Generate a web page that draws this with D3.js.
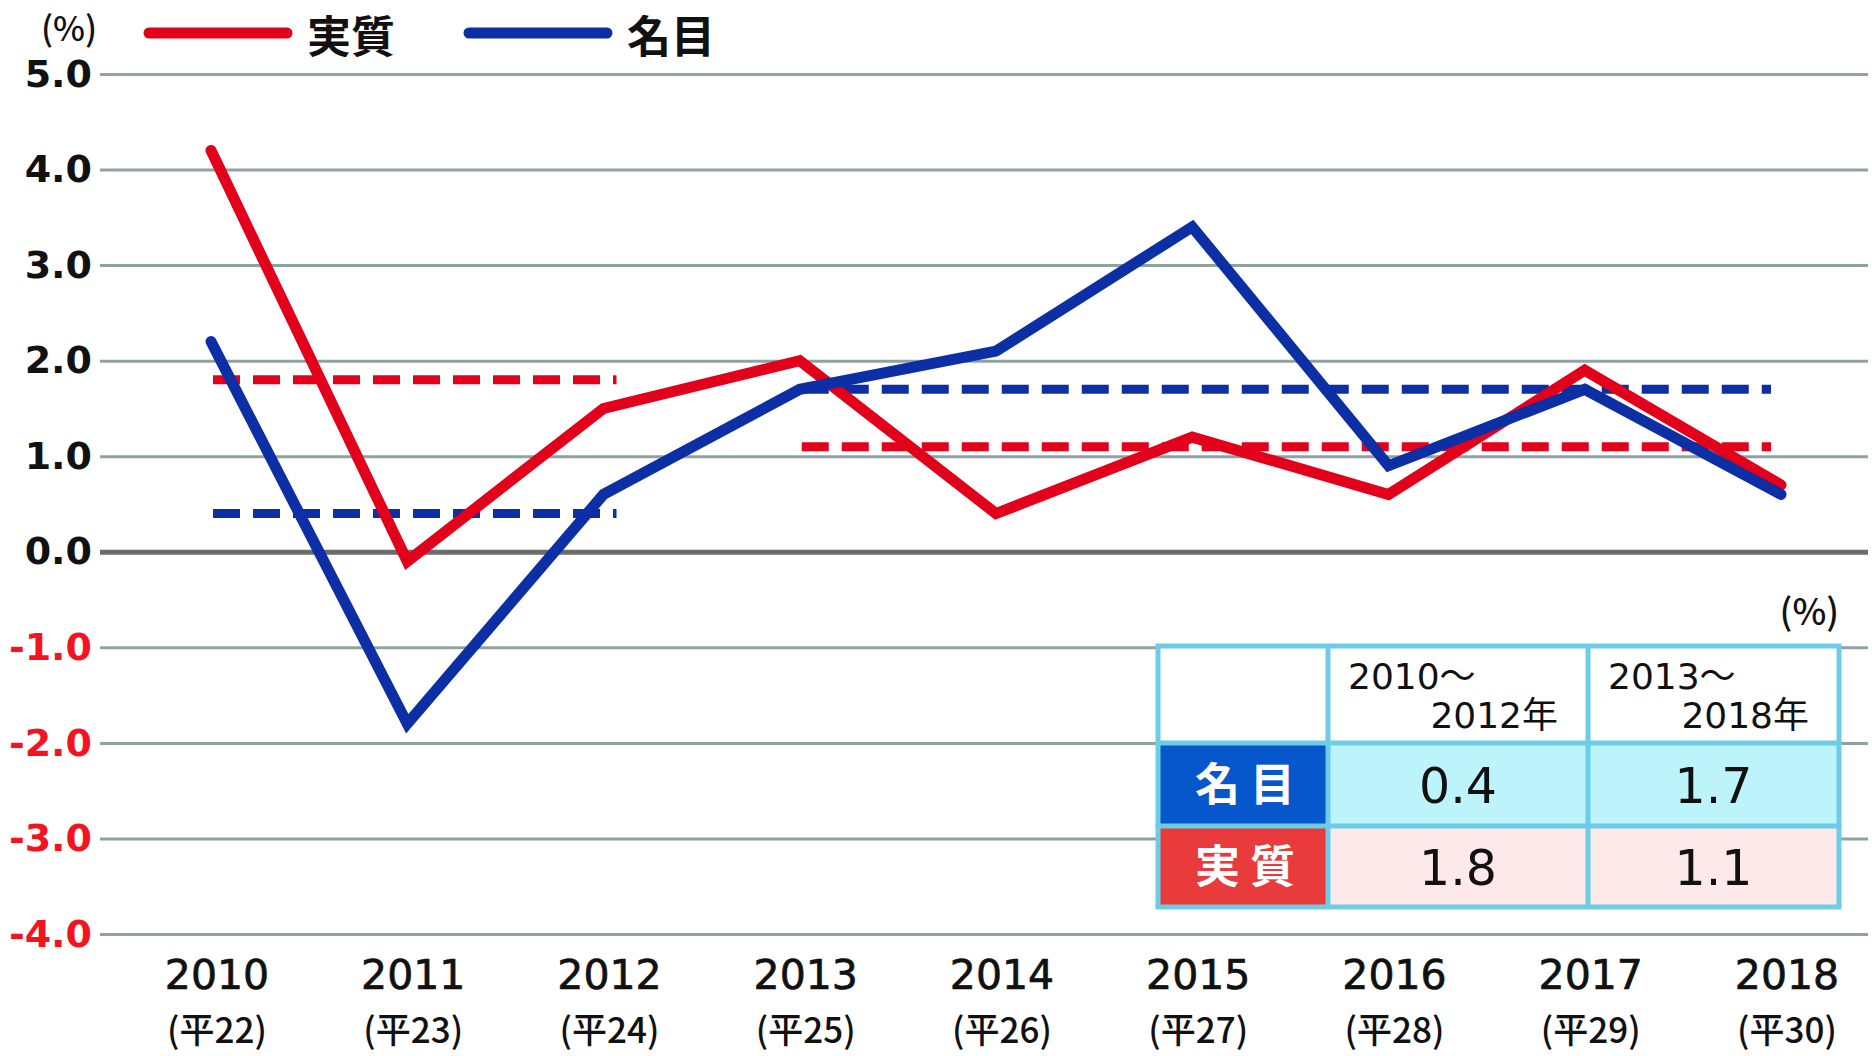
<!DOCTYPE html>
<html>
<head>
<meta charset="utf-8">
<script src="https://cdn.jsdelivr.net/npm/d3@7"></script>
<style>
  body { margin: 0; background: #fff; }
  svg { display: block; }
</style>
</head>
<body>
<script>
var years = ["2010", "2011", "2012", "2013", "2014", "2015", "2016", "2017", "2018"];
var eras = ["(平22)", "(平23)", "(平24)", "(平25)", "(平26)", "(平27)", "(平28)", "(平29)", "(平30)"];
var real = [4.2, -0.1, 1.5, 2.0, 0.4, 1.2, 0.6, 1.9, 0.7];
var nominal = [2.2, -1.8, 0.6, 1.7, 2.1, 3.4, 0.9, 1.7, 0.6];
var yTicks = [5, 4, 3, 2, 1, 0, -1, -2, -3, -4];

// period averages (table + dashed lines)
var periods = [["2010", "2012"], ["2013", "2018"]];
var periodHead = [["2010～", "2012年"], ["2013～", "2018年"]];
var nominalAvg = [0.4, 1.7];
var realAvg = [1.8, 1.1];

var RED = "#e3001b", BLUE = "#0c2fa5";
var JP = "'Noto Sans CJK JP', 'Noto Sans', sans-serif";
var NUM = "'DejaVu Sans', 'Noto Sans CJK JP', sans-serif";

var width = 1872, height = 1056;
var svg = d3.select("body").append("svg")
    .attr("width", width)
    .attr("height", height);

var x = d3.scalePoint().domain(years).range([211, 1781]);
var y = d3.scaleLinear().domain([-4, 5]).range([934, 74]);

function fmt(d) { return (d < 0 ? "-" : "") + Math.abs(d).toFixed(1); }

// y axis with gridlines
var yAxis = svg.append("g")
    .attr("transform", "translate(100,0)")
    .call(d3.axisLeft(y).tickValues(yTicks).tickSize(-1768).tickPadding(8).tickFormat(fmt));
yAxis.select(".domain").remove();
yAxis.selectAll(".tick line")
    .attr("stroke", function(d) { return d === 0 ? "#6b6b6b" : "#8ea2a2"; })
    .attr("stroke-width", function(d) { return d === 0 ? 5 : 3; });
yAxis.selectAll(".tick text")
    .attr("font-family", "'DejaVu Sans', sans-serif")
    .attr("font-weight", "bold")
    .attr("font-size", 38)
    .attr("fill", function(d) { return d < 0 ? "#f2141e" : "#111"; });

// x labels
var xl = svg.append("g");
xl.selectAll("text.yr").data(years).enter().append("text")
    .attr("class", "yr")
    .attr("x", function(d) { return x(d) + 6; })
    .attr("y", 989)
    .attr("text-anchor", "middle")
    .attr("font-family", NUM)
    .attr("font-size", 41)
    .attr("fill", "#111")
    .attr("stroke", "#111")
    .attr("stroke-width", 0.7)
    .text(function(d) { return d; });
xl.selectAll("text.era").data(eras).enter().append("text")
    .attr("class", "era")
    .attr("x", function(d, i) { return x(years[i]) + 6; })
    .attr("y", 1043)
    .attr("text-anchor", "middle")
    .attr("font-family", JP)
    .attr("font-weight", 500)
    .attr("font-size", 35)
    .attr("fill", "#111")
    .text(function(d) { return d; });

// dashed average lines
var dashData = [];
periods.forEach(function(p, i) {
    dashData.push({p: p, v: realAvg[i], c: RED});
    dashData.push({p: p, v: nominalAvg[i], c: BLUE});
});
svg.append("g").selectAll("line").data(dashData).enter().append("line")
    .attr("x1", function(d) { return x(d.p[0]) + 2; })
    .attr("x2", function(d) { return x(d.p[1]) + (d.p[1] === "2018" ? -10 : 13); })
    .attr("y1", function(d) { return y(d.v); })
    .attr("y2", function(d) { return y(d.v); })
    .attr("stroke", function(d) { return d.c; })
    .attr("stroke-width", 9)
    .attr("stroke-dasharray", "27,13");

// solid lines
var line = d3.line()
    .x(function(d, i) { return x(years[i]); })
    .y(function(d) { return y(d); });

[[real, RED], [nominal, BLUE]].forEach(function(s) {
    svg.append("path")
        .datum(s[0])
        .attr("d", line)
        .attr("fill", "none")
        .attr("stroke", s[1])
        .attr("stroke-width", 11)
        .attr("stroke-linecap", "round")
        .attr("stroke-linejoin", "miter");
});

// top unit + legend
svg.append("text").attr("x", 41).attr("y", 41)
    .attr("font-family", JP).attr("font-size", 34).attr("font-weight", 500)
    .attr("fill", "#111").text("(%)");

var legend = [["実質", RED, 149], ["名目", BLUE, 469]];
legend.forEach(function(l) {
    svg.append("line")
        .attr("x1", l[2]).attr("x2", l[2] + 138)
        .attr("y1", 33).attr("y2", 33)
        .attr("stroke", l[1]).attr("stroke-width", 11)
        .attr("stroke-linecap", "round");
    svg.append("text")
        .attr("x", l[2] + 158).attr("y", 53)
        .attr("font-family", JP).attr("font-weight", 700).attr("font-size", 44)
        .attr("fill", "#111").text(l[0]);
});

// summary table
var tx = 1158, ty = 646;
var colW = [170, 260, 251], rowH = [97, 83, 81];
var colX = [0, 170, 430, 681], rowY = [0, 97, 180, 261];
var tbl = svg.append("g").attr("transform", "translate(" + tx + "," + ty + ")");

svg.append("text").attr("x", tx + colX[3]).attr("y", ty - 21)
    .attr("text-anchor", "end")
    .attr("font-family", JP).attr("font-size", 36).attr("font-weight", 500)
    .attr("fill", "#111").text("(%)");

var rows = [
    {label: "名 目", fill: "#0656cc", bg: "#bdf3fb", vals: nominalAvg},
    {label: "実 質", fill: "#e93a3c", bg: "#fde8ea", vals: realAvg}
];

tbl.append("rect").attr("x", 0).attr("y", 0).attr("width", colX[3]).attr("height", rowY[1]).attr("fill", "#fff");
rows.forEach(function(r, i) {
    tbl.append("rect").attr("x", 0).attr("y", rowY[i + 1])
        .attr("width", colW[0]).attr("height", rowH[i + 1]).attr("fill", r.fill);
    tbl.append("rect").attr("x", colX[1]).attr("y", rowY[i + 1])
        .attr("width", colX[3] - colX[1]).attr("height", rowH[i + 1]).attr("fill", r.bg);
    tbl.append("text")
        .attr("x", colW[0] / 2 + 2).attr("y", rowY[i + 1] + rowH[i + 1] / 2 + 16)
        .attr("text-anchor", "middle")
        .attr("font-family", JP).attr("font-weight", 700).attr("font-size", 45)
        .attr("fill", "#fff").text(r.label);
    r.vals.forEach(function(v, j) {
        tbl.append("text")
            .attr("x", (colX[j + 1] + colX[j + 2]) / 2)
            .attr("y", rowY[i + 1] + rowH[i + 1] / 2 + 18)
            .attr("text-anchor", "middle")
            .attr("font-family", NUM).attr("font-size", 49)
            .attr("fill", "#111").text(d3.format(".1f")(v));
    });
});

periodHead.forEach(function(h, j) {
    tbl.append("text").attr("x", colX[j + 1] + 20).attr("y", 43)
        .attr("font-family", NUM).attr("font-size", 36)
        .attr("fill", "#111").text(h[0]);
    tbl.append("text").attr("x", colX[j + 2] - 30).attr("y", 82)
        .attr("text-anchor", "end")
        .attr("font-family", NUM).attr("font-size", 36)
        .attr("fill", "#111").text(h[1]);
});

// table borders
var bc = "#6dcde6";
colX.forEach(function(cx) {
    tbl.append("line").attr("x1", cx).attr("x2", cx).attr("y1", 0).attr("y2", rowY[3])
        .attr("stroke", bc).attr("stroke-width", 5);
});
rowY.forEach(function(ry) {
    tbl.append("line").attr("x1", -2.5).attr("x2", colX[3] + 2.5).attr("y1", ry).attr("y2", ry)
        .attr("stroke", bc).attr("stroke-width", 5);
});
</script>
</body>
</html>
